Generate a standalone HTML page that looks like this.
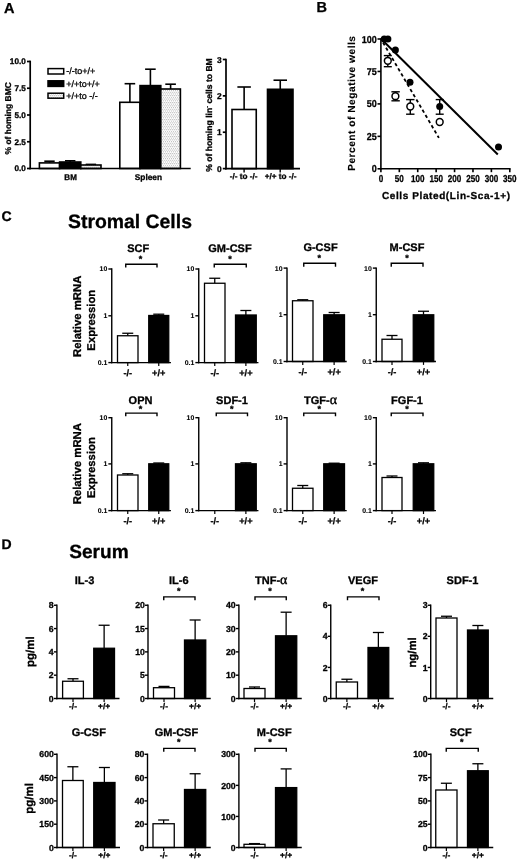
<!DOCTYPE html>
<html lang="en"><head><meta charset="utf-8"><title>Figure</title>
<style>
html,body{margin:0;padding:0;background:#fff;}
body{width:520px;height:860px;overflow:hidden;}
svg{display:block;}
svg text{font-family:'Liberation Sans', sans-serif;fill:#000;text-rendering:geometricPrecision;}
</style></head><body>
<svg width="520" height="860" viewBox="0 0 520 860">
<defs>
<pattern id="dots" width="2" height="3.4" patternUnits="userSpaceOnUse">
<rect width="2" height="3.4" fill="#fdfdfd"/><rect x="0.2" y="0.3" width="1" height="0.7" fill="#8c8c8c"/><rect x="1.2" y="2.0" width="1" height="0.7" fill="#8c8c8c"/>
</pattern>
</defs>
<rect width="520" height="860" fill="#fff"/>

<text x="4" y="12.6" font-size="14.5" font-weight="bold" text-anchor="start" stroke="#000" stroke-width="0.3">A</text>
<text x="316.5" y="12.2" font-size="14.5" font-weight="bold" text-anchor="start" stroke="#000" stroke-width="0.3">B</text>
<text x="1.5" y="221" font-size="14" font-weight="bold" text-anchor="start" stroke="#000" stroke-width="0.3">C</text>
<text x="1.5" y="548.6" font-size="14" font-weight="bold" text-anchor="start" stroke="#000" stroke-width="0.3">D</text>
<text x="68" y="228.2" font-size="19.4" font-weight="bold" text-anchor="start" stroke="#000" stroke-width="0.3">Stromal Cells</text>
<text x="69.2" y="558.4" font-size="19.1" font-weight="bold" text-anchor="start" stroke="#000" stroke-width="0.3">Serum</text>
<line x1="49.5" y1="161.2" x2="49.5" y2="162.9" stroke="#000" stroke-width="1.6"/>
<line x1="44.3" y1="161.2" x2="54.7" y2="161.2" stroke="#000" stroke-width="1.6"/>
<rect x="39.4" y="162.9" width="20.2" height="5.6" fill="#fff" stroke="#000" stroke-width="1.6"/>
<line x1="70.2" y1="160.8" x2="70.2" y2="162.0" stroke="#000" stroke-width="1.6"/>
<line x1="65.0" y1="160.8" x2="75.4" y2="160.8" stroke="#000" stroke-width="1.6"/>
<rect x="59.6" y="162.0" width="21.2" height="6.5" fill="#000" stroke="#000" stroke-width="1.6"/>
<line x1="90.9" y1="164.4" x2="90.9" y2="165.0" stroke="#000" stroke-width="1.6"/>
<line x1="85.7" y1="164.4" x2="96.10000000000001" y2="164.4" stroke="#000" stroke-width="1.6"/>
<rect x="80.8" y="165.0" width="20.2" height="3.5" fill="url(#dots)" stroke="#000" stroke-width="1.6"/>
<line x1="129.9" y1="83.7" x2="129.9" y2="102.3" stroke="#000" stroke-width="1.6"/>
<line x1="124.60000000000001" y1="83.7" x2="135.20000000000002" y2="83.7" stroke="#000" stroke-width="1.6"/>
<rect x="119.8" y="102.3" width="20.2" height="66.2" fill="#fff" stroke="#000" stroke-width="1.6"/>
<line x1="150.4" y1="69.2" x2="150.4" y2="85.6" stroke="#000" stroke-width="1.6"/>
<line x1="145.1" y1="69.2" x2="155.70000000000002" y2="69.2" stroke="#000" stroke-width="1.6"/>
<rect x="140" y="85.6" width="20.8" height="82.9" fill="#000" stroke="#000" stroke-width="1.6"/>
<line x1="170.60000000000002" y1="84.2" x2="170.60000000000002" y2="89.0" stroke="#000" stroke-width="1.6"/>
<line x1="165.3" y1="84.2" x2="175.90000000000003" y2="84.2" stroke="#000" stroke-width="1.6"/>
<rect x="160.8" y="89.0" width="19.6" height="79.5" fill="url(#dots)" stroke="#000" stroke-width="1.6"/>
<line x1="30.2" y1="60.65" x2="30.2" y2="169.35" stroke="#000" stroke-width="1.7"/>
<line x1="27.0" y1="61.5" x2="30.2" y2="61.5" stroke="#000" stroke-width="1.7"/>
<text x="25.8" y="64.45" font-size="8.2" font-weight="bold" text-anchor="end" stroke="#000" stroke-width="0.3">10.0</text>
<line x1="27.0" y1="88.25" x2="30.2" y2="88.25" stroke="#000" stroke-width="1.7"/>
<text x="25.8" y="91.2" font-size="8.2" font-weight="bold" text-anchor="end" stroke="#000" stroke-width="0.3">7.5</text>
<line x1="27.0" y1="115.0" x2="30.2" y2="115.0" stroke="#000" stroke-width="1.7"/>
<text x="25.8" y="117.95" font-size="8.2" font-weight="bold" text-anchor="end" stroke="#000" stroke-width="0.3">5.0</text>
<line x1="27.0" y1="141.75" x2="30.2" y2="141.75" stroke="#000" stroke-width="1.7"/>
<text x="25.8" y="144.7" font-size="8.2" font-weight="bold" text-anchor="end" stroke="#000" stroke-width="0.3">2.5</text>
<line x1="27.0" y1="168.5" x2="30.2" y2="168.5" stroke="#000" stroke-width="1.7"/>
<text x="25.8" y="171.45" font-size="8.2" font-weight="bold" text-anchor="end" stroke="#000" stroke-width="0.3">0.0</text>
<line x1="29.349999999999998" y1="168.5" x2="190.7" y2="168.5" stroke="#000" stroke-width="1.7"/>
<text x="70.6" y="180.3" font-size="8.0" font-weight="bold" text-anchor="middle" stroke="#000" stroke-width="0.3">BM</text>
<text x="148.4" y="180.3" font-size="8.3" font-weight="bold" text-anchor="middle" stroke="#000" stroke-width="0.3">Spleen</text>
<text x="10.6" y="118.3" font-size="8.45" font-weight="bold" text-anchor="middle" stroke="#000" stroke-width="0.3" transform="rotate(-90 10.6 118.3)">% of homing BMC</text>
<rect x="48.0" y="68.6" width="15.7" height="5.4" fill="#fff" stroke="#000" stroke-width="1.5"/>
<rect x="48.0" y="80.8" width="15.7" height="5.6" fill="#000" stroke="#000" stroke-width="1.5"/>
<rect x="48.0" y="93.2" width="15.7" height="5.0" fill="url(#dots)" stroke="#000" stroke-width="1.5"/>
<text x="66.2" y="74.2" font-size="9.0" font-weight="normal" text-anchor="start" stroke="#000" stroke-width="0.3">-/-to+/+</text>
<text x="66.2" y="86.5" font-size="9.0" font-weight="normal" text-anchor="start" stroke="#000" stroke-width="0.3">+/+to+/+</text>
<text x="66.2" y="98.8" font-size="9.0" font-weight="normal" text-anchor="start" stroke="#000" stroke-width="0.3">+/+to -/-</text>
<line x1="244.125" y1="87" x2="244.125" y2="109.5" stroke="#000" stroke-width="1.6"/>
<line x1="237.375" y1="87" x2="250.875" y2="87" stroke="#000" stroke-width="1.6"/>
<rect x="232" y="109.5" width="24.25" height="59.1" fill="#fff" stroke="#000" stroke-width="1.6"/>
<line x1="280.25" y1="80.2" x2="280.25" y2="89.3" stroke="#000" stroke-width="1.6"/>
<line x1="273.5" y1="80.2" x2="287.0" y2="80.2" stroke="#000" stroke-width="1.6"/>
<rect x="267.5" y="89.3" width="25.5" height="79.3" fill="#000" stroke="#000" stroke-width="1.6"/>
<line x1="226.0" y1="58.65" x2="226.0" y2="169.45" stroke="#000" stroke-width="1.7"/>
<line x1="222.8" y1="59.5" x2="226.0" y2="59.5" stroke="#000" stroke-width="1.7"/>
<text x="221.6" y="62.52" font-size="8.4" font-weight="bold" text-anchor="end" stroke="#000" stroke-width="0.3">3</text>
<line x1="222.8" y1="95.86666666666666" x2="226.0" y2="95.86666666666666" stroke="#000" stroke-width="1.7"/>
<text x="221.6" y="98.89" font-size="8.4" font-weight="bold" text-anchor="end" stroke="#000" stroke-width="0.3">2</text>
<line x1="222.8" y1="132.23333333333332" x2="226.0" y2="132.23333333333332" stroke="#000" stroke-width="1.7"/>
<text x="221.6" y="135.26" font-size="8.4" font-weight="bold" text-anchor="end" stroke="#000" stroke-width="0.3">1</text>
<line x1="222.8" y1="168.6" x2="226.0" y2="168.6" stroke="#000" stroke-width="1.7"/>
<text x="221.6" y="171.62" font-size="8.4" font-weight="bold" text-anchor="end" stroke="#000" stroke-width="0.3">0</text>
<line x1="225.15" y1="168.6" x2="300" y2="168.6" stroke="#000" stroke-width="1.7"/>
<line x1="244.1" y1="168.6" x2="244.1" y2="172.4" stroke="#000" stroke-width="1.4"/>
<line x1="280.2" y1="168.6" x2="280.2" y2="172.4" stroke="#000" stroke-width="1.4"/>
<text x="243.6" y="179.3" font-size="8.2" font-weight="bold" text-anchor="middle" stroke="#000" stroke-width="0.3">-/- to -/-</text>
<text x="280.6" y="179.3" font-size="8.2" font-weight="bold" text-anchor="middle" stroke="#000" stroke-width="0.3">+/+ to -/-</text>
<text x="212.0" y="115" font-size="8.6" font-weight="bold" stroke="#000" stroke-width="0.3" text-anchor="middle" transform="rotate(-90 212.0 115)">% of homing lin<tspan font-size="5.5" dy="-3">-</tspan><tspan dy="3"> cells to BM</tspan></text>
<line x1="381.5" y1="39.3" x2="497.8" y2="154.5" stroke="#000" stroke-width="2.0"/>
<line x1="383.0" y1="42.5" x2="438.9" y2="137.9" stroke="#000" stroke-width="1.8" stroke-dasharray="3.3 2.7"/>
<line x1="380.9" y1="38.2" x2="380.9" y2="169.60000000000002" stroke="#000" stroke-width="1.6"/>
<line x1="380.09999999999997" y1="168.8" x2="510.6" y2="168.8" stroke="#000" stroke-width="1.6"/>
<line x1="377.5" y1="39.0" x2="380.9" y2="39.0" stroke="#000" stroke-width="1.6"/>
<text x="376.7" y="42.5" font-size="10" font-weight="bold" text-anchor="end" stroke="#000" stroke-width="0.3" textLength="15.0" lengthAdjust="spacingAndGlyphs">100</text>
<line x1="377.5" y1="71.45" x2="380.9" y2="71.45" stroke="#000" stroke-width="1.6"/>
<text x="376.7" y="74.95" font-size="10" font-weight="bold" text-anchor="end" stroke="#000" stroke-width="0.3" textLength="10.0" lengthAdjust="spacingAndGlyphs">75</text>
<line x1="377.5" y1="103.9" x2="380.9" y2="103.9" stroke="#000" stroke-width="1.6"/>
<text x="376.7" y="107.4" font-size="10" font-weight="bold" text-anchor="end" stroke="#000" stroke-width="0.3" textLength="10.0" lengthAdjust="spacingAndGlyphs">50</text>
<line x1="377.5" y1="136.35" x2="380.9" y2="136.35" stroke="#000" stroke-width="1.6"/>
<text x="376.7" y="139.85" font-size="10" font-weight="bold" text-anchor="end" stroke="#000" stroke-width="0.3" textLength="10.0" lengthAdjust="spacingAndGlyphs">25</text>
<line x1="377.5" y1="168.8" x2="380.9" y2="168.8" stroke="#000" stroke-width="1.6"/>
<text x="376.7" y="172.3" font-size="10" font-weight="bold" text-anchor="end" stroke="#000" stroke-width="0.3" textLength="5.0" lengthAdjust="spacingAndGlyphs">0</text>
<line x1="380.9" y1="168.8" x2="380.9" y2="172.20000000000002" stroke="#000" stroke-width="1.6"/>
<text x="380.9" y="181.6" font-size="10" font-weight="bold" text-anchor="middle" stroke="#000" stroke-width="0.3" textLength="4.5" lengthAdjust="spacingAndGlyphs">0</text>
<line x1="399.31" y1="168.8" x2="399.31" y2="172.20000000000002" stroke="#000" stroke-width="1.6"/>
<text x="399.31" y="181.6" font-size="10" font-weight="bold" text-anchor="middle" stroke="#000" stroke-width="0.3" textLength="9.0" lengthAdjust="spacingAndGlyphs">50</text>
<line x1="417.73" y1="168.8" x2="417.73" y2="172.20000000000002" stroke="#000" stroke-width="1.6"/>
<text x="417.73" y="181.6" font-size="10" font-weight="bold" text-anchor="middle" stroke="#000" stroke-width="0.3" textLength="13.5" lengthAdjust="spacingAndGlyphs">100</text>
<line x1="436.14" y1="168.8" x2="436.14" y2="172.20000000000002" stroke="#000" stroke-width="1.6"/>
<text x="436.14" y="181.6" font-size="10" font-weight="bold" text-anchor="middle" stroke="#000" stroke-width="0.3" textLength="13.5" lengthAdjust="spacingAndGlyphs">150</text>
<line x1="454.56" y1="168.8" x2="454.56" y2="172.20000000000002" stroke="#000" stroke-width="1.6"/>
<text x="454.56" y="181.6" font-size="10" font-weight="bold" text-anchor="middle" stroke="#000" stroke-width="0.3" textLength="13.5" lengthAdjust="spacingAndGlyphs">200</text>
<line x1="472.97" y1="168.8" x2="472.97" y2="172.20000000000002" stroke="#000" stroke-width="1.6"/>
<text x="472.97" y="181.6" font-size="10" font-weight="bold" text-anchor="middle" stroke="#000" stroke-width="0.3" textLength="13.5" lengthAdjust="spacingAndGlyphs">250</text>
<line x1="491.39" y1="168.8" x2="491.39" y2="172.20000000000002" stroke="#000" stroke-width="1.6"/>
<text x="491.39" y="181.6" font-size="10" font-weight="bold" text-anchor="middle" stroke="#000" stroke-width="0.3" textLength="13.5" lengthAdjust="spacingAndGlyphs">300</text>
<line x1="509.8" y1="168.8" x2="509.8" y2="172.20000000000002" stroke="#000" stroke-width="1.6"/>
<text x="509.8" y="181.6" font-size="10" font-weight="bold" text-anchor="middle" stroke="#000" stroke-width="0.3" textLength="13.5" lengthAdjust="spacingAndGlyphs">350</text>
<line x1="439.7" y1="99.6" x2="439.7" y2="114.2" stroke="#000" stroke-width="1.4"/>
<line x1="435.7" y1="99.6" x2="443.7" y2="99.6" stroke="#000" stroke-width="1.4"/>
<line x1="435.7" y1="114.2" x2="443.7" y2="114.2" stroke="#000" stroke-width="1.4"/>
<circle cx="384.2" cy="39" r="3.5" fill="#000"/>
<circle cx="387.9" cy="39" r="3.5" fill="#000"/>
<circle cx="395.4" cy="50" r="3.5" fill="#000"/>
<circle cx="410" cy="82.3" r="3.5" fill="#000"/>
<circle cx="439.7" cy="106.5" r="3.5" fill="#000"/>
<circle cx="498.5" cy="147" r="3.5" fill="#000"/>
<line x1="387.8" y1="55.6" x2="387.8" y2="66.7" stroke="#000" stroke-width="1.4"/>
<line x1="383.8" y1="55.6" x2="391.8" y2="55.6" stroke="#000" stroke-width="1.4"/>
<line x1="383.8" y1="66.7" x2="391.8" y2="66.7" stroke="#000" stroke-width="1.4"/>
<line x1="395.6" y1="91.8" x2="395.6" y2="100.8" stroke="#000" stroke-width="1.4"/>
<line x1="391.40000000000003" y1="91.8" x2="399.8" y2="91.8" stroke="#000" stroke-width="1.4"/>
<line x1="391.40000000000003" y1="100.8" x2="399.8" y2="100.8" stroke="#000" stroke-width="1.4"/>
<line x1="410.3" y1="99.6" x2="410.3" y2="114.2" stroke="#000" stroke-width="1.4"/>
<line x1="406.1" y1="99.6" x2="414.5" y2="99.6" stroke="#000" stroke-width="1.4"/>
<line x1="406.1" y1="114.2" x2="414.5" y2="114.2" stroke="#000" stroke-width="1.4"/>
<circle cx="387.8" cy="60.8" r="3.4" fill="#fff" stroke="#000" stroke-width="1.5"/>
<circle cx="395.4" cy="96.2" r="3.4" fill="#fff" stroke="#000" stroke-width="1.5"/>
<circle cx="410.3" cy="106.5" r="3.4" fill="#fff" stroke="#000" stroke-width="1.5"/>
<circle cx="439.7" cy="122" r="3.4" fill="#fff" stroke="#000" stroke-width="1.5"/>
<text x="354.6" y="103.2" font-size="10.2" font-weight="bold" text-anchor="middle" stroke="#000" stroke-width="0.12" transform="rotate(-90 354.6 103.2)" letter-spacing="0.5">Percent of Negative wells</text>
<text x="446.3" y="198.9" font-size="10" font-weight="bold" text-anchor="middle" stroke="#000" stroke-width="0.3" letter-spacing="0.6">Cells Plated(Lin-Sca-1+)</text>
<line x1="127.75" y1="333.25" x2="127.75" y2="335.75" stroke="#000" stroke-width="1.3"/>
<line x1="122.25" y1="333.25" x2="133.25" y2="333.25" stroke="#000" stroke-width="1.3"/>
<rect x="117.5" y="335.75" width="20.5" height="26.85" fill="#fff" stroke="#000" stroke-width="1.3"/>
<line x1="158.75" y1="314.2" x2="158.75" y2="315.5" stroke="#000" stroke-width="1.3"/>
<line x1="153.25" y1="314.2" x2="164.25" y2="314.2" stroke="#000" stroke-width="1.3"/>
<rect x="148.75" y="315.5" width="20.0" height="47.1" fill="#000" stroke="#000" stroke-width="1.3"/>
<line x1="111.75" y1="268.3" x2="111.75" y2="363.3" stroke="#000" stroke-width="1.4"/>
<line x1="108.35" y1="269.0" x2="111.75" y2="269.0" stroke="#000" stroke-width="1.4"/>
<text x="107.25" y="271.48" font-size="6.9" font-weight="bold" text-anchor="end" stroke="#000" stroke-width="0.1">10</text>
<line x1="108.35" y1="315.8" x2="111.75" y2="315.8" stroke="#000" stroke-width="1.4"/>
<text x="107.25" y="318.28" font-size="6.9" font-weight="bold" text-anchor="end" stroke="#000" stroke-width="0.1">1</text>
<line x1="108.35" y1="362.6" x2="111.75" y2="362.6" stroke="#000" stroke-width="1.4"/>
<text x="107.25" y="365.08" font-size="6.9" font-weight="bold" text-anchor="end" stroke="#000" stroke-width="0.1">0.1</text>
<line x1="111.05" y1="362.6" x2="170.95" y2="362.6" stroke="#000" stroke-width="1.4"/>
<line x1="127.75" y1="362.6" x2="127.75" y2="366.0" stroke="#000" stroke-width="1.2"/>
<line x1="158.75" y1="362.6" x2="158.75" y2="366.0" stroke="#000" stroke-width="1.2"/>
<path d="M125.75 267.6V264.2H157V267.6" fill="none" stroke="#000" stroke-width="1.4"/>
<text x="140.5" y="261.8" font-size="9" font-weight="bold" text-anchor="middle" stroke="#000" stroke-width="0.3">*</text>
<text x="138.2" y="252.1" font-size="11" font-weight="bold" text-anchor="middle" stroke="#000" stroke-width="0.3">SCF</text>
<text x="127.75" y="375.6" font-size="9.2" font-weight="bold" text-anchor="middle" stroke="#000" stroke-width="0.3">-/-</text>
<text x="158.75" y="375.6" font-size="9.2" font-weight="bold" text-anchor="middle" stroke="#000" stroke-width="0.3">+/+</text>
<line x1="214.75" y1="278.25" x2="214.75" y2="283.25" stroke="#000" stroke-width="1.3"/>
<line x1="209.25" y1="278.25" x2="220.25" y2="278.25" stroke="#000" stroke-width="1.3"/>
<rect x="204.5" y="283.25" width="20.5" height="79.35" fill="#fff" stroke="#000" stroke-width="1.3"/>
<line x1="245.875" y1="310.5" x2="245.875" y2="315" stroke="#000" stroke-width="1.3"/>
<line x1="240.375" y1="310.5" x2="251.375" y2="310.5" stroke="#000" stroke-width="1.3"/>
<rect x="235.5" y="315" width="20.75" height="47.6" fill="#000" stroke="#000" stroke-width="1.3"/>
<line x1="198.75" y1="268.3" x2="198.75" y2="363.3" stroke="#000" stroke-width="1.4"/>
<line x1="195.35" y1="269.0" x2="198.75" y2="269.0" stroke="#000" stroke-width="1.4"/>
<text x="194.25" y="271.48" font-size="6.9" font-weight="bold" text-anchor="end" stroke="#000" stroke-width="0.1">10</text>
<line x1="195.35" y1="315.8" x2="198.75" y2="315.8" stroke="#000" stroke-width="1.4"/>
<text x="194.25" y="318.28" font-size="6.9" font-weight="bold" text-anchor="end" stroke="#000" stroke-width="0.1">1</text>
<line x1="195.35" y1="362.6" x2="198.75" y2="362.6" stroke="#000" stroke-width="1.4"/>
<text x="194.25" y="365.08" font-size="6.9" font-weight="bold" text-anchor="end" stroke="#000" stroke-width="0.1">0.1</text>
<line x1="198.05" y1="362.6" x2="258.45" y2="362.6" stroke="#000" stroke-width="1.4"/>
<line x1="214.75" y1="362.6" x2="214.75" y2="366.0" stroke="#000" stroke-width="1.2"/>
<line x1="245.88" y1="362.6" x2="245.88" y2="366.0" stroke="#000" stroke-width="1.2"/>
<path d="M214.25 267.6V264.2H246.25V267.6" fill="none" stroke="#000" stroke-width="1.4"/>
<text x="230" y="261.8" font-size="9" font-weight="bold" text-anchor="middle" stroke="#000" stroke-width="0.3">*</text>
<text x="230" y="252.1" font-size="11" font-weight="bold" text-anchor="middle" stroke="#000" stroke-width="0.3">GM-CSF</text>
<text x="214.75" y="375.6" font-size="9.2" font-weight="bold" text-anchor="middle" stroke="#000" stroke-width="0.3">-/-</text>
<text x="245.88" y="375.6" font-size="9.2" font-weight="bold" text-anchor="middle" stroke="#000" stroke-width="0.3">+/+</text>
<line x1="302.75" y1="299.75" x2="302.75" y2="300.75" stroke="#000" stroke-width="1.3"/>
<line x1="297.25" y1="299.75" x2="308.25" y2="299.75" stroke="#000" stroke-width="1.3"/>
<rect x="292.5" y="300.75" width="20.5" height="60.75" fill="#fff" stroke="#000" stroke-width="1.3"/>
<line x1="334.125" y1="312.5" x2="334.125" y2="314.8" stroke="#000" stroke-width="1.3"/>
<line x1="328.625" y1="312.5" x2="339.625" y2="312.5" stroke="#000" stroke-width="1.3"/>
<rect x="323.75" y="314.8" width="20.75" height="46.7" fill="#000" stroke="#000" stroke-width="1.3"/>
<line x1="287.0" y1="267.40000000000003" x2="287.0" y2="362.2" stroke="#000" stroke-width="1.4"/>
<line x1="283.6" y1="268.1" x2="287.0" y2="268.1" stroke="#000" stroke-width="1.4"/>
<text x="282.5" y="270.58" font-size="6.9" font-weight="bold" text-anchor="end" stroke="#000" stroke-width="0.1">10</text>
<line x1="283.6" y1="314.7" x2="287.0" y2="314.7" stroke="#000" stroke-width="1.4"/>
<text x="282.5" y="317.18" font-size="6.9" font-weight="bold" text-anchor="end" stroke="#000" stroke-width="0.1">1</text>
<line x1="283.6" y1="361.5" x2="287.0" y2="361.5" stroke="#000" stroke-width="1.4"/>
<text x="282.5" y="363.98" font-size="6.9" font-weight="bold" text-anchor="end" stroke="#000" stroke-width="0.1">0.1</text>
<line x1="286.3" y1="361.5" x2="346.7" y2="361.5" stroke="#000" stroke-width="1.4"/>
<line x1="302.75" y1="361.5" x2="302.75" y2="364.9" stroke="#000" stroke-width="1.2"/>
<line x1="334.12" y1="361.5" x2="334.12" y2="364.9" stroke="#000" stroke-width="1.2"/>
<path d="M303.75 266.70000000000005V263.3H335.5V266.70000000000005" fill="none" stroke="#000" stroke-width="1.4"/>
<text x="319.25" y="260.90000000000003" font-size="9" font-weight="bold" text-anchor="middle" stroke="#000" stroke-width="0.3">*</text>
<text x="320.5" y="251.2" font-size="11" font-weight="bold" text-anchor="middle" stroke="#000" stroke-width="0.3">G-CSF</text>
<text x="302.75" y="374.5" font-size="9.2" font-weight="bold" text-anchor="middle" stroke="#000" stroke-width="0.3">-/-</text>
<text x="334.12" y="374.5" font-size="9.2" font-weight="bold" text-anchor="middle" stroke="#000" stroke-width="0.3">+/+</text>
<line x1="392.0" y1="335.5" x2="392.0" y2="339.25" stroke="#000" stroke-width="1.3"/>
<line x1="386.5" y1="335.5" x2="397.5" y2="335.5" stroke="#000" stroke-width="1.3"/>
<rect x="382" y="339.25" width="20" height="22.25" fill="#fff" stroke="#000" stroke-width="1.3"/>
<line x1="423.5" y1="311.25" x2="423.5" y2="314.8" stroke="#000" stroke-width="1.3"/>
<line x1="418.0" y1="311.25" x2="429.0" y2="311.25" stroke="#000" stroke-width="1.3"/>
<rect x="413.25" y="314.8" width="20.5" height="46.7" fill="#000" stroke="#000" stroke-width="1.3"/>
<line x1="376.25" y1="267.40000000000003" x2="376.25" y2="362.2" stroke="#000" stroke-width="1.4"/>
<line x1="372.85" y1="268.1" x2="376.25" y2="268.1" stroke="#000" stroke-width="1.4"/>
<text x="371.75" y="270.58" font-size="6.9" font-weight="bold" text-anchor="end" stroke="#000" stroke-width="0.1">10</text>
<line x1="372.85" y1="314.7" x2="376.25" y2="314.7" stroke="#000" stroke-width="1.4"/>
<text x="371.75" y="317.18" font-size="6.9" font-weight="bold" text-anchor="end" stroke="#000" stroke-width="0.1">1</text>
<line x1="372.85" y1="361.5" x2="376.25" y2="361.5" stroke="#000" stroke-width="1.4"/>
<text x="371.75" y="363.98" font-size="6.9" font-weight="bold" text-anchor="end" stroke="#000" stroke-width="0.1">0.1</text>
<line x1="375.55" y1="361.5" x2="435.95" y2="361.5" stroke="#000" stroke-width="1.4"/>
<line x1="392.0" y1="361.5" x2="392.0" y2="364.9" stroke="#000" stroke-width="1.2"/>
<line x1="423.5" y1="361.5" x2="423.5" y2="364.9" stroke="#000" stroke-width="1.2"/>
<path d="M391.25 266.70000000000005V263.3H423V266.70000000000005" fill="none" stroke="#000" stroke-width="1.4"/>
<text x="407" y="260.90000000000003" font-size="9" font-weight="bold" text-anchor="middle" stroke="#000" stroke-width="0.3">*</text>
<text x="407" y="251.2" font-size="11" font-weight="bold" text-anchor="middle" stroke="#000" stroke-width="0.3">M-CSF</text>
<text x="392.0" y="374.5" font-size="9.2" font-weight="bold" text-anchor="middle" stroke="#000" stroke-width="0.3">-/-</text>
<text x="423.5" y="374.5" font-size="9.2" font-weight="bold" text-anchor="middle" stroke="#000" stroke-width="0.3">+/+</text>
<line x1="127.75" y1="473.75" x2="127.75" y2="475" stroke="#000" stroke-width="1.3"/>
<line x1="122.25" y1="473.75" x2="133.25" y2="473.75" stroke="#000" stroke-width="1.3"/>
<rect x="117.5" y="475" width="20.5" height="35.6" fill="#fff" stroke="#000" stroke-width="1.3"/>
<line x1="158.75" y1="463.0" x2="158.75" y2="463.8" stroke="#000" stroke-width="1.3"/>
<line x1="153.25" y1="463.0" x2="164.25" y2="463.0" stroke="#000" stroke-width="1.3"/>
<rect x="148.75" y="463.8" width="20.0" height="46.8" fill="#000" stroke="#000" stroke-width="1.3"/>
<line x1="111.75" y1="417.0" x2="111.75" y2="511.3" stroke="#000" stroke-width="1.4"/>
<line x1="108.35" y1="417.7" x2="111.75" y2="417.7" stroke="#000" stroke-width="1.4"/>
<text x="107.25" y="420.18" font-size="6.9" font-weight="bold" text-anchor="end" stroke="#000" stroke-width="0.1">10</text>
<line x1="108.35" y1="463.9" x2="111.75" y2="463.9" stroke="#000" stroke-width="1.4"/>
<text x="107.25" y="466.38" font-size="6.9" font-weight="bold" text-anchor="end" stroke="#000" stroke-width="0.1">1</text>
<line x1="108.35" y1="510.6" x2="111.75" y2="510.6" stroke="#000" stroke-width="1.4"/>
<text x="107.25" y="513.08" font-size="6.9" font-weight="bold" text-anchor="end" stroke="#000" stroke-width="0.1">0.1</text>
<line x1="111.05" y1="510.6" x2="170.95" y2="510.6" stroke="#000" stroke-width="1.4"/>
<line x1="127.75" y1="510.6" x2="127.75" y2="514.0" stroke="#000" stroke-width="1.2"/>
<line x1="158.75" y1="510.6" x2="158.75" y2="514.0" stroke="#000" stroke-width="1.2"/>
<path d="M125.75 416.3V413.09999999999997H157V416.3" fill="none" stroke="#000" stroke-width="1.4"/>
<text x="140.5" y="411.5" font-size="9" font-weight="bold" text-anchor="middle" stroke="#000" stroke-width="0.3">*</text>
<text x="140.5" y="403.7" font-size="11" font-weight="bold" text-anchor="middle" stroke="#000" stroke-width="0.3">OPN</text>
<text x="127.75" y="523.6" font-size="9.2" font-weight="bold" text-anchor="middle" stroke="#000" stroke-width="0.3">-/-</text>
<text x="158.75" y="523.6" font-size="9.2" font-weight="bold" text-anchor="middle" stroke="#000" stroke-width="0.3">+/+</text>
<line x1="245.875" y1="462.8" x2="245.875" y2="463.8" stroke="#000" stroke-width="1.3"/>
<line x1="240.375" y1="462.8" x2="251.375" y2="462.8" stroke="#000" stroke-width="1.3"/>
<rect x="235.5" y="463.8" width="20.75" height="46.8" fill="#000" stroke="#000" stroke-width="1.3"/>
<line x1="198.75" y1="417.0" x2="198.75" y2="511.3" stroke="#000" stroke-width="1.4"/>
<line x1="195.35" y1="417.7" x2="198.75" y2="417.7" stroke="#000" stroke-width="1.4"/>
<text x="194.25" y="420.18" font-size="6.9" font-weight="bold" text-anchor="end" stroke="#000" stroke-width="0.1">10</text>
<line x1="195.35" y1="463.9" x2="198.75" y2="463.9" stroke="#000" stroke-width="1.4"/>
<text x="194.25" y="466.38" font-size="6.9" font-weight="bold" text-anchor="end" stroke="#000" stroke-width="0.1">1</text>
<line x1="195.35" y1="510.6" x2="198.75" y2="510.6" stroke="#000" stroke-width="1.4"/>
<text x="194.25" y="513.08" font-size="6.9" font-weight="bold" text-anchor="end" stroke="#000" stroke-width="0.1">0.1</text>
<line x1="198.05" y1="510.6" x2="258.45" y2="510.6" stroke="#000" stroke-width="1.4"/>
<line x1="214.78" y1="510.6" x2="214.78" y2="514.0" stroke="#000" stroke-width="1.2"/>
<line x1="245.88" y1="510.6" x2="245.88" y2="514.0" stroke="#000" stroke-width="1.2"/>
<path d="M216.25 416.3V413.09999999999997H247.5V416.3" fill="none" stroke="#000" stroke-width="1.4"/>
<text x="231.75" y="411.5" font-size="9" font-weight="bold" text-anchor="middle" stroke="#000" stroke-width="0.3">*</text>
<text x="232" y="403.7" font-size="11" font-weight="bold" text-anchor="middle" stroke="#000" stroke-width="0.3">SDF-1</text>
<text x="214.78" y="523.6" font-size="9.2" font-weight="bold" text-anchor="middle" stroke="#000" stroke-width="0.3">-/-</text>
<text x="245.88" y="523.6" font-size="9.2" font-weight="bold" text-anchor="middle" stroke="#000" stroke-width="0.3">+/+</text>
<line x1="302.75" y1="485.5" x2="302.75" y2="488.25" stroke="#000" stroke-width="1.3"/>
<line x1="297.25" y1="485.5" x2="308.25" y2="485.5" stroke="#000" stroke-width="1.3"/>
<rect x="292.5" y="488.25" width="20.5" height="22.35" fill="#fff" stroke="#000" stroke-width="1.3"/>
<line x1="334.125" y1="463.2" x2="334.125" y2="463.8" stroke="#000" stroke-width="1.3"/>
<line x1="328.625" y1="463.2" x2="339.625" y2="463.2" stroke="#000" stroke-width="1.3"/>
<rect x="323.75" y="463.8" width="20.75" height="46.8" fill="#000" stroke="#000" stroke-width="1.3"/>
<line x1="287.0" y1="417.0" x2="287.0" y2="511.3" stroke="#000" stroke-width="1.4"/>
<line x1="283.6" y1="417.7" x2="287.0" y2="417.7" stroke="#000" stroke-width="1.4"/>
<text x="282.5" y="420.18" font-size="6.9" font-weight="bold" text-anchor="end" stroke="#000" stroke-width="0.1">10</text>
<line x1="283.6" y1="463.9" x2="287.0" y2="463.9" stroke="#000" stroke-width="1.4"/>
<text x="282.5" y="466.38" font-size="6.9" font-weight="bold" text-anchor="end" stroke="#000" stroke-width="0.1">1</text>
<line x1="283.6" y1="510.6" x2="287.0" y2="510.6" stroke="#000" stroke-width="1.4"/>
<text x="282.5" y="513.08" font-size="6.9" font-weight="bold" text-anchor="end" stroke="#000" stroke-width="0.1">0.1</text>
<line x1="286.3" y1="510.6" x2="346.7" y2="510.6" stroke="#000" stroke-width="1.4"/>
<line x1="302.75" y1="510.6" x2="302.75" y2="514.0" stroke="#000" stroke-width="1.2"/>
<line x1="334.12" y1="510.6" x2="334.12" y2="514.0" stroke="#000" stroke-width="1.2"/>
<path d="M303.75 416.3V413.09999999999997H335.5V416.3" fill="none" stroke="#000" stroke-width="1.4"/>
<text x="319.25" y="411.5" font-size="9" font-weight="bold" text-anchor="middle" stroke="#000" stroke-width="0.3">*</text>
<text x="320.5" y="403.7" font-size="11" font-weight="bold" stroke="#000" stroke-width="0.3" text-anchor="middle">TGF-<tspan font-weight="normal" stroke-width="0.35" font-family="'Liberation Serif', 'DejaVu Serif', serif" font-size="14">α</tspan></text>
<text x="302.75" y="523.6" font-size="9.2" font-weight="bold" text-anchor="middle" stroke="#000" stroke-width="0.3">-/-</text>
<text x="334.12" y="523.6" font-size="9.2" font-weight="bold" text-anchor="middle" stroke="#000" stroke-width="0.3">+/+</text>
<line x1="392.0" y1="476.0" x2="392.0" y2="477.5" stroke="#000" stroke-width="1.3"/>
<line x1="386.5" y1="476.0" x2="397.5" y2="476.0" stroke="#000" stroke-width="1.3"/>
<rect x="382" y="477.5" width="20" height="33.1" fill="#fff" stroke="#000" stroke-width="1.3"/>
<line x1="423.5" y1="462.8" x2="423.5" y2="463.8" stroke="#000" stroke-width="1.3"/>
<line x1="418.0" y1="462.8" x2="429.0" y2="462.8" stroke="#000" stroke-width="1.3"/>
<rect x="413.25" y="463.8" width="20.5" height="46.8" fill="#000" stroke="#000" stroke-width="1.3"/>
<line x1="376.25" y1="417.0" x2="376.25" y2="511.3" stroke="#000" stroke-width="1.4"/>
<line x1="372.85" y1="417.7" x2="376.25" y2="417.7" stroke="#000" stroke-width="1.4"/>
<text x="371.75" y="420.18" font-size="6.9" font-weight="bold" text-anchor="end" stroke="#000" stroke-width="0.1">10</text>
<line x1="372.85" y1="463.9" x2="376.25" y2="463.9" stroke="#000" stroke-width="1.4"/>
<text x="371.75" y="466.38" font-size="6.9" font-weight="bold" text-anchor="end" stroke="#000" stroke-width="0.1">1</text>
<line x1="372.85" y1="510.6" x2="376.25" y2="510.6" stroke="#000" stroke-width="1.4"/>
<text x="371.75" y="513.08" font-size="6.9" font-weight="bold" text-anchor="end" stroke="#000" stroke-width="0.1">0.1</text>
<line x1="375.55" y1="510.6" x2="435.95" y2="510.6" stroke="#000" stroke-width="1.4"/>
<line x1="392.0" y1="510.6" x2="392.0" y2="514.0" stroke="#000" stroke-width="1.2"/>
<line x1="423.5" y1="510.6" x2="423.5" y2="514.0" stroke="#000" stroke-width="1.2"/>
<path d="M391.25 416.3V413.09999999999997H423V416.3" fill="none" stroke="#000" stroke-width="1.4"/>
<text x="407" y="411.5" font-size="9" font-weight="bold" text-anchor="middle" stroke="#000" stroke-width="0.3">*</text>
<text x="407" y="403.7" font-size="11" font-weight="bold" text-anchor="middle" stroke="#000" stroke-width="0.3">FGF-1</text>
<text x="392.0" y="523.6" font-size="9.2" font-weight="bold" text-anchor="middle" stroke="#000" stroke-width="0.3">-/-</text>
<text x="423.5" y="523.6" font-size="9.2" font-weight="bold" text-anchor="middle" stroke="#000" stroke-width="0.3">+/+</text>
<text x="81.2" y="316.3" font-size="11.35" font-weight="bold" text-anchor="middle" stroke="#000" stroke-width="0.3" transform="rotate(-90 81.2 316.3)">Relative mRNA</text>
<text x="94.6" y="320.2" font-size="11.3" font-weight="bold" text-anchor="middle" stroke="#000" stroke-width="0.3" transform="rotate(-90 94.6 320.2)">Expression</text>
<text x="81.2" y="463.7" font-size="11.35" font-weight="bold" text-anchor="middle" stroke="#000" stroke-width="0.3" transform="rotate(-90 81.2 463.7)">Relative mRNA</text>
<text x="94.6" y="467.59999999999997" font-size="11.3" font-weight="bold" text-anchor="middle" stroke="#000" stroke-width="0.3" transform="rotate(-90 94.6 467.59999999999997)">Expression</text>
<line x1="73.0" y1="678.75" x2="73.0" y2="681.25" stroke="#000" stroke-width="1.3"/>
<line x1="67.5" y1="678.75" x2="78.5" y2="678.75" stroke="#000" stroke-width="1.3"/>
<rect x="62.6" y="681.25" width="20.8" height="17.25" fill="#fff" stroke="#000" stroke-width="1.3"/>
<line x1="104.125" y1="625.25" x2="104.125" y2="648.25" stroke="#000" stroke-width="1.3"/>
<line x1="98.625" y1="625.25" x2="109.625" y2="625.25" stroke="#000" stroke-width="1.3"/>
<rect x="93.75" y="648.25" width="20.75" height="50.25" fill="#000" stroke="#000" stroke-width="1.3"/>
<line x1="56.9" y1="604.55" x2="56.9" y2="699.2" stroke="#000" stroke-width="1.4"/>
<line x1="53.9" y1="698.5" x2="56.9" y2="698.5" stroke="#000" stroke-width="1.4"/>
<text x="53.7" y="701.63" font-size="8.7" font-weight="bold" text-anchor="end" stroke="#000" stroke-width="0.3">0</text>
<line x1="53.9" y1="675.19" x2="56.9" y2="675.19" stroke="#000" stroke-width="1.4"/>
<text x="53.7" y="678.32" font-size="8.7" font-weight="bold" text-anchor="end" stroke="#000" stroke-width="0.3">2</text>
<line x1="53.9" y1="651.88" x2="56.9" y2="651.88" stroke="#000" stroke-width="1.4"/>
<text x="53.7" y="655.01" font-size="8.7" font-weight="bold" text-anchor="end" stroke="#000" stroke-width="0.3">4</text>
<line x1="53.9" y1="628.56" x2="56.9" y2="628.56" stroke="#000" stroke-width="1.4"/>
<text x="53.7" y="631.69" font-size="8.7" font-weight="bold" text-anchor="end" stroke="#000" stroke-width="0.3">6</text>
<line x1="53.9" y1="605.25" x2="56.9" y2="605.25" stroke="#000" stroke-width="1.4"/>
<text x="53.7" y="608.38" font-size="8.7" font-weight="bold" text-anchor="end" stroke="#000" stroke-width="0.3">8</text>
<line x1="56.199999999999996" y1="698.5" x2="119.5" y2="698.5" stroke="#000" stroke-width="1.4"/>
<line x1="73.0" y1="698.5" x2="73.0" y2="702.1" stroke="#000" stroke-width="1.2"/>
<line x1="104.12" y1="698.5" x2="104.12" y2="702.1" stroke="#000" stroke-width="1.2"/>
<text x="84.5" y="584.15" font-size="11" font-weight="bold" text-anchor="middle" stroke="#000" stroke-width="0.3">IL-3</text>
<text x="73.0" y="708.9" font-size="8.4" font-weight="bold" text-anchor="middle" stroke="#000" stroke-width="0.3">-/-</text>
<text x="104.12" y="708.9" font-size="8.4" font-weight="bold" text-anchor="middle" stroke="#000" stroke-width="0.3">+/+</text>
<line x1="164.0" y1="686.4" x2="164.0" y2="687.7" stroke="#000" stroke-width="1.3"/>
<line x1="158.5" y1="686.4" x2="169.5" y2="686.4" stroke="#000" stroke-width="1.3"/>
<rect x="153.5" y="687.7" width="21.0" height="10.8" fill="#fff" stroke="#000" stroke-width="1.3"/>
<line x1="195.125" y1="620" x2="195.125" y2="640" stroke="#000" stroke-width="1.3"/>
<line x1="189.625" y1="620" x2="200.625" y2="620" stroke="#000" stroke-width="1.3"/>
<rect x="184.5" y="640" width="21.25" height="58.5" fill="#000" stroke="#000" stroke-width="1.3"/>
<line x1="148.0" y1="604.55" x2="148.0" y2="699.2" stroke="#000" stroke-width="1.4"/>
<line x1="145.0" y1="698.5" x2="148.0" y2="698.5" stroke="#000" stroke-width="1.4"/>
<text x="144.8" y="701.63" font-size="8.7" font-weight="bold" text-anchor="end" stroke="#000" stroke-width="0.3">0</text>
<line x1="145.0" y1="675.19" x2="148.0" y2="675.19" stroke="#000" stroke-width="1.4"/>
<text x="144.8" y="678.32" font-size="8.7" font-weight="bold" text-anchor="end" stroke="#000" stroke-width="0.3">5</text>
<line x1="145.0" y1="651.88" x2="148.0" y2="651.88" stroke="#000" stroke-width="1.4"/>
<text x="144.8" y="655.01" font-size="8.7" font-weight="bold" text-anchor="end" stroke="#000" stroke-width="0.3">10</text>
<line x1="145.0" y1="628.56" x2="148.0" y2="628.56" stroke="#000" stroke-width="1.4"/>
<text x="144.8" y="631.69" font-size="8.7" font-weight="bold" text-anchor="end" stroke="#000" stroke-width="0.3">15</text>
<line x1="145.0" y1="605.25" x2="148.0" y2="605.25" stroke="#000" stroke-width="1.4"/>
<text x="144.8" y="608.38" font-size="8.7" font-weight="bold" text-anchor="end" stroke="#000" stroke-width="0.3">20</text>
<line x1="147.3" y1="698.5" x2="210.75" y2="698.5" stroke="#000" stroke-width="1.4"/>
<line x1="164.0" y1="698.5" x2="164.0" y2="702.1" stroke="#000" stroke-width="1.2"/>
<line x1="195.12" y1="698.5" x2="195.12" y2="702.1" stroke="#000" stroke-width="1.2"/>
<path d="M163.75 600.25V596.85H195V600.25" fill="none" stroke="#000" stroke-width="1.4"/>
<text x="178.75" y="594.25" font-size="9" font-weight="bold" text-anchor="middle" stroke="#000" stroke-width="0.3">*</text>
<text x="178.75" y="584.15" font-size="11" font-weight="bold" text-anchor="middle" stroke="#000" stroke-width="0.3">IL-6</text>
<text x="164.0" y="708.9" font-size="8.4" font-weight="bold" text-anchor="middle" stroke="#000" stroke-width="0.3">-/-</text>
<text x="195.12" y="708.9" font-size="8.4" font-weight="bold" text-anchor="middle" stroke="#000" stroke-width="0.3">+/+</text>
<line x1="254.5" y1="687" x2="254.5" y2="688.5" stroke="#000" stroke-width="1.3"/>
<line x1="249.0" y1="687" x2="260.0" y2="687" stroke="#000" stroke-width="1.3"/>
<rect x="244.0" y="688.5" width="21.0" height="10.0" fill="#fff" stroke="#000" stroke-width="1.3"/>
<line x1="286.125" y1="612.2" x2="286.125" y2="635.8" stroke="#000" stroke-width="1.3"/>
<line x1="280.625" y1="612.2" x2="291.625" y2="612.2" stroke="#000" stroke-width="1.3"/>
<rect x="275.5" y="635.8" width="21.25" height="62.7" fill="#000" stroke="#000" stroke-width="1.3"/>
<line x1="238.9" y1="604.55" x2="238.9" y2="699.2" stroke="#000" stroke-width="1.4"/>
<line x1="235.9" y1="698.5" x2="238.9" y2="698.5" stroke="#000" stroke-width="1.4"/>
<text x="235.7" y="701.63" font-size="8.7" font-weight="bold" text-anchor="end" stroke="#000" stroke-width="0.3">0</text>
<line x1="235.9" y1="675.19" x2="238.9" y2="675.19" stroke="#000" stroke-width="1.4"/>
<text x="235.7" y="678.32" font-size="8.7" font-weight="bold" text-anchor="end" stroke="#000" stroke-width="0.3">10</text>
<line x1="235.9" y1="651.88" x2="238.9" y2="651.88" stroke="#000" stroke-width="1.4"/>
<text x="235.7" y="655.01" font-size="8.7" font-weight="bold" text-anchor="end" stroke="#000" stroke-width="0.3">20</text>
<line x1="235.9" y1="628.56" x2="238.9" y2="628.56" stroke="#000" stroke-width="1.4"/>
<text x="235.7" y="631.69" font-size="8.7" font-weight="bold" text-anchor="end" stroke="#000" stroke-width="0.3">30</text>
<line x1="235.9" y1="605.25" x2="238.9" y2="605.25" stroke="#000" stroke-width="1.4"/>
<text x="235.7" y="608.38" font-size="8.7" font-weight="bold" text-anchor="end" stroke="#000" stroke-width="0.3">40</text>
<line x1="238.20000000000002" y1="698.5" x2="301.75" y2="698.5" stroke="#000" stroke-width="1.4"/>
<line x1="254.5" y1="698.5" x2="254.5" y2="702.1" stroke="#000" stroke-width="1.2"/>
<line x1="286.12" y1="698.5" x2="286.12" y2="702.1" stroke="#000" stroke-width="1.2"/>
<path d="M255 600.25V596.85H286.25V600.25" fill="none" stroke="#000" stroke-width="1.4"/>
<text x="270" y="594.25" font-size="9" font-weight="bold" text-anchor="middle" stroke="#000" stroke-width="0.3">*</text>
<text x="271.25" y="584.15" font-size="11" font-weight="bold" stroke="#000" stroke-width="0.3" text-anchor="middle">TNF-<tspan font-weight="normal" stroke-width="0.35" font-family="'Liberation Serif', 'DejaVu Serif', serif" font-size="14">α</tspan></text>
<text x="254.5" y="708.9" font-size="8.4" font-weight="bold" text-anchor="middle" stroke="#000" stroke-width="0.3">-/-</text>
<text x="286.12" y="708.9" font-size="8.4" font-weight="bold" text-anchor="middle" stroke="#000" stroke-width="0.3">+/+</text>
<line x1="346.875" y1="679.25" x2="346.875" y2="682" stroke="#000" stroke-width="1.3"/>
<line x1="341.375" y1="679.25" x2="352.375" y2="679.25" stroke="#000" stroke-width="1.3"/>
<rect x="336.25" y="682" width="21.25" height="16.5" fill="#fff" stroke="#000" stroke-width="1.3"/>
<line x1="378.375" y1="632.5" x2="378.375" y2="647.5" stroke="#000" stroke-width="1.3"/>
<line x1="372.875" y1="632.5" x2="383.875" y2="632.5" stroke="#000" stroke-width="1.3"/>
<rect x="368" y="647.5" width="20.75" height="51.0" fill="#000" stroke="#000" stroke-width="1.3"/>
<line x1="330.75" y1="604.55" x2="330.75" y2="699.2" stroke="#000" stroke-width="1.4"/>
<line x1="327.75" y1="698.5" x2="330.75" y2="698.5" stroke="#000" stroke-width="1.4"/>
<text x="327.55" y="701.63" font-size="8.7" font-weight="bold" text-anchor="end" stroke="#000" stroke-width="0.3">0</text>
<line x1="327.75" y1="667.42" x2="330.75" y2="667.42" stroke="#000" stroke-width="1.4"/>
<text x="327.55" y="670.55" font-size="8.7" font-weight="bold" text-anchor="end" stroke="#000" stroke-width="0.3">2</text>
<line x1="327.75" y1="636.33" x2="330.75" y2="636.33" stroke="#000" stroke-width="1.4"/>
<text x="327.55" y="639.46" font-size="8.7" font-weight="bold" text-anchor="end" stroke="#000" stroke-width="0.3">4</text>
<line x1="327.75" y1="605.25" x2="330.75" y2="605.25" stroke="#000" stroke-width="1.4"/>
<text x="327.55" y="608.38" font-size="8.7" font-weight="bold" text-anchor="end" stroke="#000" stroke-width="0.3">6</text>
<line x1="330.05" y1="698.5" x2="393.75" y2="698.5" stroke="#000" stroke-width="1.4"/>
<line x1="346.88" y1="698.5" x2="346.88" y2="702.1" stroke="#000" stroke-width="1.2"/>
<line x1="378.38" y1="698.5" x2="378.38" y2="702.1" stroke="#000" stroke-width="1.2"/>
<path d="M347.5 600.25V596.85H379V600.25" fill="none" stroke="#000" stroke-width="1.4"/>
<text x="362.5" y="594.25" font-size="9" font-weight="bold" text-anchor="middle" stroke="#000" stroke-width="0.3">*</text>
<text x="363" y="584.15" font-size="11" font-weight="bold" text-anchor="middle" stroke="#000" stroke-width="0.3">VEGF</text>
<text x="346.88" y="708.9" font-size="8.4" font-weight="bold" text-anchor="middle" stroke="#000" stroke-width="0.3">-/-</text>
<text x="378.38" y="708.9" font-size="8.4" font-weight="bold" text-anchor="middle" stroke="#000" stroke-width="0.3">+/+</text>
<line x1="446.5" y1="616.25" x2="446.5" y2="618" stroke="#000" stroke-width="1.3"/>
<line x1="441.0" y1="616.25" x2="452.0" y2="616.25" stroke="#000" stroke-width="1.3"/>
<rect x="436.0" y="618" width="21.0" height="80.5" fill="#fff" stroke="#000" stroke-width="1.3"/>
<line x1="477.875" y1="625.5" x2="477.875" y2="630" stroke="#000" stroke-width="1.3"/>
<line x1="472.375" y1="625.5" x2="483.375" y2="625.5" stroke="#000" stroke-width="1.3"/>
<rect x="467.5" y="630" width="20.75" height="68.5" fill="#000" stroke="#000" stroke-width="1.3"/>
<line x1="430.7" y1="604.55" x2="430.7" y2="699.2" stroke="#000" stroke-width="1.4"/>
<line x1="427.7" y1="698.5" x2="430.7" y2="698.5" stroke="#000" stroke-width="1.4"/>
<text x="427.5" y="701.63" font-size="8.7" font-weight="bold" text-anchor="end" stroke="#000" stroke-width="0.3">0</text>
<line x1="427.7" y1="667.42" x2="430.7" y2="667.42" stroke="#000" stroke-width="1.4"/>
<text x="427.5" y="670.55" font-size="8.7" font-weight="bold" text-anchor="end" stroke="#000" stroke-width="0.3">1</text>
<line x1="427.7" y1="636.33" x2="430.7" y2="636.33" stroke="#000" stroke-width="1.4"/>
<text x="427.5" y="639.46" font-size="8.7" font-weight="bold" text-anchor="end" stroke="#000" stroke-width="0.3">2</text>
<line x1="427.7" y1="605.25" x2="430.7" y2="605.25" stroke="#000" stroke-width="1.4"/>
<text x="427.5" y="608.38" font-size="8.7" font-weight="bold" text-anchor="end" stroke="#000" stroke-width="0.3">3</text>
<line x1="430.0" y1="698.5" x2="493.25" y2="698.5" stroke="#000" stroke-width="1.4"/>
<line x1="446.5" y1="698.5" x2="446.5" y2="702.1" stroke="#000" stroke-width="1.2"/>
<line x1="477.88" y1="698.5" x2="477.88" y2="702.1" stroke="#000" stroke-width="1.2"/>
<text x="462.5" y="584.15" font-size="11" font-weight="bold" text-anchor="middle" stroke="#000" stroke-width="0.3">SDF-1</text>
<text x="446.5" y="708.9" font-size="8.4" font-weight="bold" text-anchor="middle" stroke="#000" stroke-width="0.3">-/-</text>
<text x="477.88" y="708.9" font-size="8.4" font-weight="bold" text-anchor="middle" stroke="#000" stroke-width="0.3">+/+</text>
<line x1="72.875" y1="766.75" x2="72.875" y2="780.5" stroke="#000" stroke-width="1.3"/>
<line x1="67.375" y1="766.75" x2="78.375" y2="766.75" stroke="#000" stroke-width="1.3"/>
<rect x="62.5" y="780.5" width="20.75" height="67.0" fill="#fff" stroke="#000" stroke-width="1.3"/>
<line x1="104.375" y1="767.5" x2="104.375" y2="782.5" stroke="#000" stroke-width="1.3"/>
<line x1="98.875" y1="767.5" x2="109.875" y2="767.5" stroke="#000" stroke-width="1.3"/>
<rect x="93.75" y="782.5" width="21.25" height="65.0" fill="#000" stroke="#000" stroke-width="1.3"/>
<line x1="57.0" y1="753.5999999999999" x2="57.0" y2="848.2" stroke="#000" stroke-width="1.4"/>
<line x1="54.0" y1="847.5" x2="57.0" y2="847.5" stroke="#000" stroke-width="1.4"/>
<text x="53.8" y="850.63" font-size="8.7" font-weight="bold" text-anchor="end" stroke="#000" stroke-width="0.3">0</text>
<line x1="54.0" y1="824.2" x2="57.0" y2="824.2" stroke="#000" stroke-width="1.4"/>
<text x="53.8" y="827.33" font-size="8.7" font-weight="bold" text-anchor="end" stroke="#000" stroke-width="0.3">150</text>
<line x1="54.0" y1="800.9" x2="57.0" y2="800.9" stroke="#000" stroke-width="1.4"/>
<text x="53.8" y="804.03" font-size="8.7" font-weight="bold" text-anchor="end" stroke="#000" stroke-width="0.3">300</text>
<line x1="54.0" y1="777.6" x2="57.0" y2="777.6" stroke="#000" stroke-width="1.4"/>
<text x="53.8" y="780.73" font-size="8.7" font-weight="bold" text-anchor="end" stroke="#000" stroke-width="0.3">450</text>
<line x1="54.0" y1="754.3" x2="57.0" y2="754.3" stroke="#000" stroke-width="1.4"/>
<text x="53.8" y="757.43" font-size="8.7" font-weight="bold" text-anchor="end" stroke="#000" stroke-width="0.3">600</text>
<line x1="56.3" y1="847.5" x2="120" y2="847.5" stroke="#000" stroke-width="1.4"/>
<line x1="72.88" y1="847.5" x2="72.88" y2="851.1" stroke="#000" stroke-width="1.2"/>
<line x1="104.38" y1="847.5" x2="104.38" y2="851.1" stroke="#000" stroke-width="1.2"/>
<text x="88.75" y="736.1" font-size="11" font-weight="bold" text-anchor="middle" stroke="#000" stroke-width="0.3">G-CSF</text>
<text x="72.88" y="857.9" font-size="8.4" font-weight="bold" text-anchor="middle" stroke="#000" stroke-width="0.3">-/-</text>
<text x="104.38" y="857.9" font-size="8.4" font-weight="bold" text-anchor="middle" stroke="#000" stroke-width="0.3">+/+</text>
<line x1="163.625" y1="820" x2="163.625" y2="823.75" stroke="#000" stroke-width="1.3"/>
<line x1="158.125" y1="820" x2="169.125" y2="820" stroke="#000" stroke-width="1.3"/>
<rect x="153" y="823.75" width="21.25" height="23.75" fill="#fff" stroke="#000" stroke-width="1.3"/>
<line x1="195.125" y1="773.75" x2="195.125" y2="789.5" stroke="#000" stroke-width="1.3"/>
<line x1="189.625" y1="773.75" x2="200.625" y2="773.75" stroke="#000" stroke-width="1.3"/>
<rect x="184.5" y="789.5" width="21.25" height="58.0" fill="#000" stroke="#000" stroke-width="1.3"/>
<line x1="147.5" y1="753.5999999999999" x2="147.5" y2="848.2" stroke="#000" stroke-width="1.4"/>
<line x1="144.5" y1="847.5" x2="147.5" y2="847.5" stroke="#000" stroke-width="1.4"/>
<text x="144.3" y="850.63" font-size="8.7" font-weight="bold" text-anchor="end" stroke="#000" stroke-width="0.3">0</text>
<line x1="144.5" y1="824.2" x2="147.5" y2="824.2" stroke="#000" stroke-width="1.4"/>
<text x="144.3" y="827.33" font-size="8.7" font-weight="bold" text-anchor="end" stroke="#000" stroke-width="0.3">20</text>
<line x1="144.5" y1="800.9" x2="147.5" y2="800.9" stroke="#000" stroke-width="1.4"/>
<text x="144.3" y="804.03" font-size="8.7" font-weight="bold" text-anchor="end" stroke="#000" stroke-width="0.3">40</text>
<line x1="144.5" y1="777.6" x2="147.5" y2="777.6" stroke="#000" stroke-width="1.4"/>
<text x="144.3" y="780.73" font-size="8.7" font-weight="bold" text-anchor="end" stroke="#000" stroke-width="0.3">60</text>
<line x1="144.5" y1="754.3" x2="147.5" y2="754.3" stroke="#000" stroke-width="1.4"/>
<text x="144.3" y="757.43" font-size="8.7" font-weight="bold" text-anchor="end" stroke="#000" stroke-width="0.3">80</text>
<line x1="146.8" y1="847.5" x2="210.75" y2="847.5" stroke="#000" stroke-width="1.4"/>
<line x1="163.62" y1="847.5" x2="163.62" y2="851.1" stroke="#000" stroke-width="1.2"/>
<line x1="195.12" y1="847.5" x2="195.12" y2="851.1" stroke="#000" stroke-width="1.2"/>
<path d="M163.75 751.6999999999999V748.4H195V751.6999999999999" fill="none" stroke="#000" stroke-width="1.4"/>
<text x="178.75" y="744.9" font-size="9" font-weight="bold" text-anchor="middle" stroke="#000" stroke-width="0.3">*</text>
<text x="176.5" y="736.1" font-size="11" font-weight="bold" text-anchor="middle" stroke="#000" stroke-width="0.3">GM-CSF</text>
<text x="163.62" y="857.9" font-size="8.4" font-weight="bold" text-anchor="middle" stroke="#000" stroke-width="0.3">-/-</text>
<text x="195.12" y="857.9" font-size="8.4" font-weight="bold" text-anchor="middle" stroke="#000" stroke-width="0.3">+/+</text>
<line x1="254.5" y1="843.6" x2="254.5" y2="844.3" stroke="#000" stroke-width="1.3"/>
<line x1="249.0" y1="843.6" x2="260.0" y2="843.6" stroke="#000" stroke-width="1.3"/>
<rect x="244.0" y="844.3" width="21.0" height="3.2" fill="#fff" stroke="#000" stroke-width="1.3"/>
<line x1="286.125" y1="768.9" x2="286.125" y2="787.6" stroke="#000" stroke-width="1.3"/>
<line x1="280.625" y1="768.9" x2="291.625" y2="768.9" stroke="#000" stroke-width="1.3"/>
<rect x="275.5" y="787.6" width="21.25" height="59.9" fill="#000" stroke="#000" stroke-width="1.3"/>
<line x1="238.9" y1="753.5999999999999" x2="238.9" y2="848.2" stroke="#000" stroke-width="1.4"/>
<line x1="235.9" y1="847.5" x2="238.9" y2="847.5" stroke="#000" stroke-width="1.4"/>
<text x="235.7" y="850.63" font-size="8.7" font-weight="bold" text-anchor="end" stroke="#000" stroke-width="0.3">0</text>
<line x1="235.9" y1="816.43" x2="238.9" y2="816.43" stroke="#000" stroke-width="1.4"/>
<text x="235.7" y="819.56" font-size="8.7" font-weight="bold" text-anchor="end" stroke="#000" stroke-width="0.3">100</text>
<line x1="235.9" y1="785.37" x2="238.9" y2="785.37" stroke="#000" stroke-width="1.4"/>
<text x="235.7" y="788.5" font-size="8.7" font-weight="bold" text-anchor="end" stroke="#000" stroke-width="0.3">200</text>
<line x1="235.9" y1="754.3" x2="238.9" y2="754.3" stroke="#000" stroke-width="1.4"/>
<text x="235.7" y="757.43" font-size="8.7" font-weight="bold" text-anchor="end" stroke="#000" stroke-width="0.3">300</text>
<line x1="238.20000000000002" y1="847.5" x2="301.75" y2="847.5" stroke="#000" stroke-width="1.4"/>
<line x1="254.5" y1="847.5" x2="254.5" y2="851.1" stroke="#000" stroke-width="1.2"/>
<line x1="286.12" y1="847.5" x2="286.12" y2="851.1" stroke="#000" stroke-width="1.2"/>
<path d="M255 751.6999999999999V748.4H286.25V751.6999999999999" fill="none" stroke="#000" stroke-width="1.4"/>
<text x="270" y="744.9" font-size="9" font-weight="bold" text-anchor="middle" stroke="#000" stroke-width="0.3">*</text>
<text x="274.25" y="736.1" font-size="11" font-weight="bold" text-anchor="middle" stroke="#000" stroke-width="0.3">M-CSF</text>
<text x="254.5" y="857.9" font-size="8.4" font-weight="bold" text-anchor="middle" stroke="#000" stroke-width="0.3">-/-</text>
<text x="286.12" y="857.9" font-size="8.4" font-weight="bold" text-anchor="middle" stroke="#000" stroke-width="0.3">+/+</text>
<line x1="446.375" y1="783.25" x2="446.375" y2="790" stroke="#000" stroke-width="1.3"/>
<line x1="440.875" y1="783.25" x2="451.875" y2="783.25" stroke="#000" stroke-width="1.3"/>
<rect x="435.75" y="790" width="21.25" height="57.5" fill="#fff" stroke="#000" stroke-width="1.3"/>
<line x1="477.875" y1="763.75" x2="477.875" y2="770.75" stroke="#000" stroke-width="1.3"/>
<line x1="472.375" y1="763.75" x2="483.375" y2="763.75" stroke="#000" stroke-width="1.3"/>
<rect x="467.5" y="770.75" width="20.75" height="76.75" fill="#000" stroke="#000" stroke-width="1.3"/>
<line x1="430.9" y1="753.5999999999999" x2="430.9" y2="848.2" stroke="#000" stroke-width="1.4"/>
<line x1="427.9" y1="847.5" x2="430.9" y2="847.5" stroke="#000" stroke-width="1.4"/>
<text x="427.7" y="850.63" font-size="8.7" font-weight="bold" text-anchor="end" stroke="#000" stroke-width="0.3">0</text>
<line x1="427.9" y1="824.2" x2="430.9" y2="824.2" stroke="#000" stroke-width="1.4"/>
<text x="427.7" y="827.33" font-size="8.7" font-weight="bold" text-anchor="end" stroke="#000" stroke-width="0.3">25</text>
<line x1="427.9" y1="800.9" x2="430.9" y2="800.9" stroke="#000" stroke-width="1.4"/>
<text x="427.7" y="804.03" font-size="8.7" font-weight="bold" text-anchor="end" stroke="#000" stroke-width="0.3">50</text>
<line x1="427.9" y1="777.6" x2="430.9" y2="777.6" stroke="#000" stroke-width="1.4"/>
<text x="427.7" y="780.73" font-size="8.7" font-weight="bold" text-anchor="end" stroke="#000" stroke-width="0.3">75</text>
<line x1="427.9" y1="754.3" x2="430.9" y2="754.3" stroke="#000" stroke-width="1.4"/>
<text x="427.7" y="757.43" font-size="8.7" font-weight="bold" text-anchor="end" stroke="#000" stroke-width="0.3">100</text>
<line x1="430.2" y1="847.5" x2="493.25" y2="847.5" stroke="#000" stroke-width="1.4"/>
<line x1="446.38" y1="847.5" x2="446.38" y2="851.1" stroke="#000" stroke-width="1.2"/>
<line x1="477.88" y1="847.5" x2="477.88" y2="851.1" stroke="#000" stroke-width="1.2"/>
<path d="M446.25 751.6999999999999V748.4H478.25V751.6999999999999" fill="none" stroke="#000" stroke-width="1.4"/>
<text x="461.75" y="744.9" font-size="9" font-weight="bold" text-anchor="middle" stroke="#000" stroke-width="0.3">*</text>
<text x="460.75" y="736.1" font-size="11" font-weight="bold" text-anchor="middle" stroke="#000" stroke-width="0.3">SCF</text>
<text x="446.38" y="857.9" font-size="8.4" font-weight="bold" text-anchor="middle" stroke="#000" stroke-width="0.3">-/-</text>
<text x="477.88" y="857.9" font-size="8.4" font-weight="bold" text-anchor="middle" stroke="#000" stroke-width="0.3">+/+</text>
<text x="33.8" y="651.6" font-size="11.5" font-weight="bold" text-anchor="middle" stroke="#000" stroke-width="0.3" transform="rotate(-90 33.8 651.6)">pg/ml</text>
<text x="33.4" y="798.4" font-size="11.5" font-weight="bold" text-anchor="middle" stroke="#000" stroke-width="0.3" transform="rotate(-90 33.4 798.4)">pg/ml</text>
<text x="416.5" y="652.4" font-size="11.4" font-weight="bold" text-anchor="middle" stroke="#000" stroke-width="0.3" transform="rotate(-90 416.5 652.4)">ng/ml</text>
</svg>
</body></html>
